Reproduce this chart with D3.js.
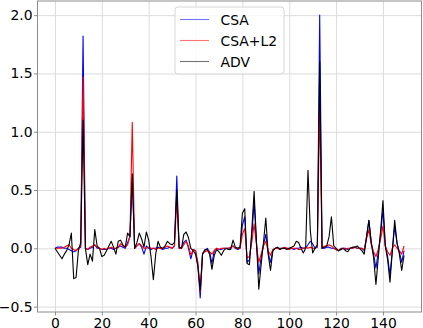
<!DOCTYPE html>
<html>
<head>
<meta charset="utf-8">
<script src="https://cdn.jsdelivr.net/npm/d3@7"></script>
<style>
  body { margin: 0; background: #fff }
  text { font-family: 'DejaVu Sans', sans-serif }
</style>
</head>
<body>
<svg id="chart" width="423" height="328"></svg>
<script>
const seriesNames = ['CSA', 'CSA+L2', 'ADV']
const seriesColors = ['#0000ff', '#ff0000', '#000000']

const csa = [
  0.0, 0.01, 0.01, 0.01, 0.0, 0.0, -0.01, -0.02, -0.03, -0.02,
  0.0, 0.01, 1.82, 0.0, -0.01, 0.0, 0.01, 0.03, 0.0, 0.0,
  -0.01, -0.01, -0.01, 0.0, 0.0, -0.01, 0.0, 0.01, 0.02, 0.01,
  0.0, 0.05, 0.1, 0.6, 0.0, 0.02, 0.04, 0.01, -0.05, 0.02,
  0.0, -0.01, 0.0, 0.0, 0.01, 0.0, -0.01, 0.0, 0.0, 0.01,
  0.0, 0.02, 0.62, 0.0, 0.0, 0.05, 0.07, 0.0, -0.09, -0.01,
  -0.02, -0.15, -0.425, -0.05, -0.02, 0.0, -0.03, -0.13, -0.02, 0.0,
  -0.01, -0.01, 0.0, 0.0, 0.0, 0.0, 0.02, 0.0, -0.01, 0.0,
  0.2, 0.27, -0.12, -0.1, 0.1, 0.4, 0.05, -0.22, -0.08, 0.03,
  0.12, -0.04, -0.12, -0.02, 0.0, 0.0, 0.0, 0.0, 0.0, 0.0,
  0.0, 0.0, -0.01, 0.0, 0.0, 0.01, 0.0, 0.0, 0.03, 0.06,
  0.04, 0.0, 0.01, 2.0, 0.0, 0.0, 0.01, 0.01, 0.0, 0.0,
  -0.01, -0.02, -0.01, 0.0, 0.0, -0.01, 0.0, 0.0, 0.01, 0.0,
  0.0, 0.0, -0.02, 0.1, 0.24, 0.05, -0.05, -0.17, -0.03, 0.12,
  0.33, 0.02, -0.07, -0.23, -0.02, 0.19, 0.04, -0.03, -0.12, -0.02
]

const csaL2 = [
  0.0, 0.0, 0.0, 0.0, 0.01, 0.02, 0.03, 0.0, -0.01, -0.02,
  0.0, 0.02, 1.47, 0.0, -0.01, 0.01, 0.02, 0.03, 0.01, 0.0,
  -0.01, 0.0, -0.01, 0.0, 0.01, 0.0, 0.0, 0.01, 0.04, 0.02,
  0.01, 0.03, 0.1, 1.08, 0.0, 0.02, 0.04, 0.02, 0.0, 0.0,
  0.01, 0.0, 0.0, -0.01, 0.0, 0.0, 0.0, 0.01, 0.02, 0.01,
  0.0, 0.02, 0.42, 0.0, 0.0, 0.03, 0.06, 0.02, -0.06, -0.01,
  -0.02, -0.12, -0.37, -0.04, -0.03, -0.02, -0.03, -0.05, -0.02, 0.0,
  -0.01, 0.0, 0.0, 0.0, 0.0, 0.01, 0.02, 0.0, 0.0, 0.0,
  0.12, 0.17, -0.08, -0.07, 0.05, 0.21, 0.03, -0.12, -0.05, 0.02,
  0.06, -0.02, -0.06, -0.01, 0.0, 0.0, -0.01, 0.0, 0.01, 0.0,
  -0.01, 0.0, 0.0, 0.0, -0.01, -0.01, 0.0, 0.01, 0.0, 0.01,
  0.0, 0.0, 0.02, 1.22, 0.0, 0.02, 0.02, 0.03, 0.02, 0.0,
  -0.01, -0.02, 0.0, 0.0, -0.01, 0.0, 0.0, 0.0, 0.01, 0.0,
  0.0, 0.0, -0.01, 0.08, 0.16, 0.03, -0.03, -0.07, -0.01, 0.08,
  0.19, 0.02, -0.03, -0.06, 0.0, 0.03, 0.0, -0.02, -0.05, 0.02
]

const adv = [
  0.0, -0.03, -0.06, -0.09, -0.05, -0.02, 0.03, 0.13, -0.26, -0.25,
  -0.02, 0.05, 1.1, 0.0, -0.14, -0.05, -0.11, 0.16, 0.02, 0.0,
  -0.07, -0.06, -0.02, 0.02, 0.06, 0.01, -0.05, 0.06, 0.07, 0.03,
  0.01, 0.13, 0.1, 0.64, 0.0, 0.05, 0.13, 0.08, 0.01, 0.14,
  0.07, -0.07, -0.27, -0.05, 0.06, 0.01, 0.0, 0.02, 0.06, 0.04,
  0.03, 0.05, 0.5, 0.01, 0.0, 0.12, 0.14, 0.09, 0.0, -0.02,
  -0.05, -0.15, -0.36, -0.05, -0.01, -0.01, -0.05, -0.18, -0.06, -0.01,
  -0.03, -0.06, -0.02, 0.0, -0.01, -0.01, 0.07, 0.01, 0.0, 0.01,
  0.3, 0.34, -0.13, -0.14, 0.15, 0.49, 0.06, -0.35, -0.14, 0.05,
  0.26, -0.05, -0.19, -0.02, 0.0, 0.01, -0.01, 0.0, 0.0, -0.01,
  0.0, 0.01, 0.02, 0.06, 0.05, 0.0, -0.04, 0.0, 0.67, 0.15,
  -0.04, 0.0, 0.03, 1.6, 0.0, 0.01, 0.02, 0.1, 0.27, 0.02,
  0.0, -0.02, -0.01, 0.0, -0.02, -0.03, 0.0, 0.01, 0.01, 0.02,
  0.0, -0.02, -0.05, 0.1, 0.24, 0.05, -0.08, -0.31, -0.08, 0.15,
  0.41, 0.02, -0.1, -0.29, -0.02, 0.24, 0.05, -0.05, -0.19, -0.06
]

const xTicks = [0, 20, 40, 60, 80, 100, 120, 140]
const yTicks = [-0.5, 0.0, 0.5, 1.0, 1.5, 2.0]

const allSeries = [csa, csaL2, adv]
const width = 423
const height = 328
const margin = {top: 1, right: 1.5, bottom: 16, left: 37.5}

const svg = d3.select('#chart')
const n = csa.length
const xPad = (n - 1) * 0.05
const x = d3.scaleLinear()
  .domain([-xPad, n - 1 + xPad])
  .range([margin.left, width - margin.right])

const [lo, hi] = d3.extent(allSeries.flat())
const yPad = (hi - lo) * 0.05
const y = d3.scaleLinear()
  .domain([lo - yPad, hi + yPad])
  .range([height - margin.bottom, margin.top])

const plot = svg.append('g')

// grid
plot.append('g')
  .attr('transform', `translate(0,${height - margin.bottom})`)
  .call(d3.axisBottom(x).tickValues(xTicks).tickSize(-(height - margin.bottom - margin.top)).tickFormat(''))
  .call(g => g.select('.domain').remove())
  .call(g => g.selectAll('line').attr('stroke', '#dcdcdc').attr('stroke-width', 1))
plot.append('g')
  .attr('transform', `translate(${margin.left},0)`)
  .call(d3.axisLeft(y).tickValues(yTicks).tickSize(-(width - margin.left - margin.right)).tickFormat(''))
  .call(g => g.select('.domain').remove())
  .call(g => g.selectAll('line').attr('stroke', '#dcdcdc').attr('stroke-width', 1))

// lines
const line = d3.line()
  .x((d, i) => x(i))
  .y(d => y(d))

allSeries.forEach((s, k) => {
  plot.append('path')
    .datum(s)
    .attr('fill', 'none')
    .attr('stroke', seriesColors[k])
    .attr('stroke-width', 1.1)
    .attr('stroke-linejoin', 'round')
    .attr('d', line)
})

// frame
plot.append('rect')
  .attr('x', margin.left)
  .attr('y', margin.top)
  .attr('width', width - margin.left - margin.right)
  .attr('height', height - margin.bottom - margin.top)
  .attr('fill', 'none')
  .attr('stroke', '#8c8c8c')
  .attr('stroke-width', 1)

// axes with tick labels
const fmt = d => d3.format('.1f')(d).replace('-', '\u2212')
const xAxis = svg.append('g')
  .attr('transform', `translate(0,${height - margin.bottom})`)
  .call(d3.axisBottom(x).tickValues(xTicks).tickSize(3.5).tickPadding(3))
xAxis.select('.domain').remove()
xAxis.selectAll('line').attr('stroke', '#8c8c8c')
xAxis.selectAll('text')
  .attr('font-size', '13.9px')
  .attr('fill', '#000')
  .attr('font-family', 'DejaVu Sans')

const yAxis = svg.append('g')
  .attr('transform', `translate(${margin.left},0)`)
  .call(d3.axisLeft(y).tickValues(yTicks).tickSize(3.5).tickPadding(1.5).tickFormat(fmt))
yAxis.select('.domain').remove()
yAxis.selectAll('line').attr('stroke', '#8c8c8c')
yAxis.selectAll('text')
  .attr('font-size', '13.9px')
  .attr('fill', '#000')
  .attr('font-family', 'DejaVu Sans')

// legend
const legend = svg.append('g').attr('transform', 'translate(175,7)')
legend.append('rect')
  .attr('width', 109)
  .attr('height', 67)
  .attr('rx', 3)
  .attr('fill', '#fff')
  .attr('fill-opacity', 0.8)
  .attr('stroke', '#d6d6d6')
seriesNames.forEach((name, k) => {
  const row = legend.append('g').attr('transform', `translate(0,${12.5 + k * 21})`)
  row.append('line')
    .attr('x1', 5).attr('x2', 34)
    .attr('stroke', seriesColors[k])
    .attr('stroke-opacity', 0.55)
    .attr('stroke-width', 1.1)
  row.append('text')
    .attr('x', 45.5)
    .attr('dy', '0.36em')
    .attr('font-size', '13.9px')
    .attr('fill', '#000')
    .text(name)
})
</script>
</body>
</html>
